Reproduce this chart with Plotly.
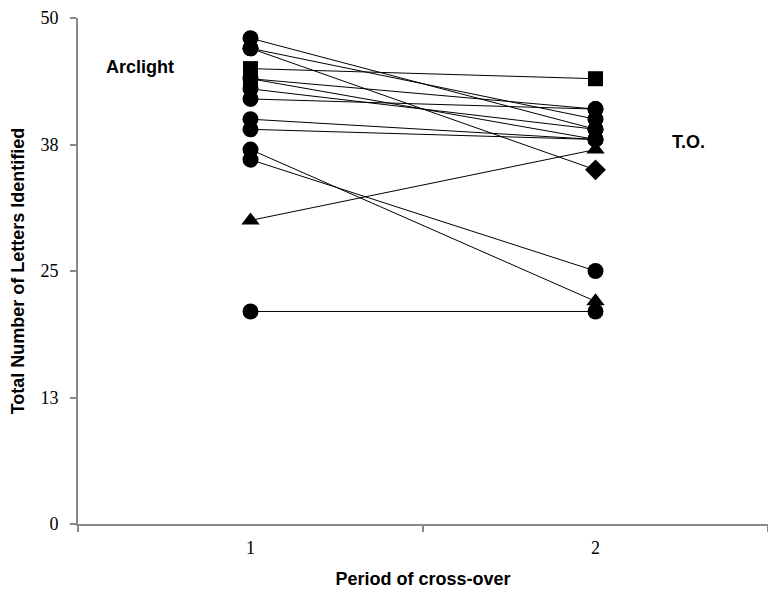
import plotly.graph_objects as go

periods = [1, 2]
period1_scores = [48, 47, 47, 45, 44, 44, 43, 42, 40, 39, 37, 36, 30, 21]
period2_scores = [39, 35, 40, 44, 41, 38, 39, 41, 38, 38, 22, 25, 37, 21]
period1_symbols = ["circle", "circle", "circle", "square", "square", "circle", "circle",
                   "circle", "circle", "circle", "circle", "circle", "triangle-up", "circle"]
period2_symbols = ["circle", "diamond", "circle", "square", "circle", "circle", "circle",
                   "circle", "circle", "circle", "triangle-up", "circle", "triangle-up", "circle"]
y_tick_vals = [0, 12.5, 25, 37.5, 50]
y_tick_text = ["0", "13", "25", "38", "50"]
x_tick_text = ["1", "2"]

sizes = {"circle": 16, "square": 15, "diamond": 16, "triangle-up": 16}

fig = go.Figure()
for a, b, s1, s2 in zip(period1_scores, period2_scores, period1_symbols, period2_symbols):
    fig.add_trace(go.Scatter(
        x=periods, y=[a, b], mode="lines+markers",
        line=dict(color="black", width=1),
        marker=dict(color="black", symbol=[s1, s2], size=[sizes[s1], sizes[s2]],
                    opacity=1, line=dict(width=0)),
        showlegend=False, cliponaxis=False,
    ))

axis_col = "#898989"
title_font = dict(family="Liberation Sans", size=18, color="black")
fig.update_layout(
    width=768, height=592,
    margin=dict(l=78, r=0, t=18, b=68),
    paper_bgcolor="white", plot_bgcolor="white",
    font=dict(family="Liberation Serif", size=18, color="black"),
    xaxis=dict(
        range=[0.5, 2.5], tickvals=periods, ticktext=x_tick_text,
        showline=True, linecolor=axis_col, linewidth=2,
        ticks="", showgrid=False, zeroline=False,
        ticklabelstandoff=6,
        minor=dict(tickvals=[0.5, 1.5, 2.5], ticks="outside", ticklen=6,
                   tickcolor=axis_col, tickwidth=2, showgrid=False),
        title=dict(text="<b>Period of cross-over</b>", font=title_font, standoff=16),
    ),
    yaxis=dict(
        range=[0, 50], tickvals=y_tick_vals, ticktext=y_tick_text,
        showline=True, linecolor=axis_col, linewidth=2,
        ticks="outside", ticklen=6, tickcolor=axis_col, tickwidth=2,
        showgrid=False, zeroline=False, ticklabelstandoff=8,
        title=dict(text="<b>Total Number of Letters Identified</b>", font=title_font,
                   standoff=11),
    ),
    annotations=[
        dict(text="<b>Arclight</b>", x=0.68, y=45.2, xref="x", yref="y",
             showarrow=False, font=title_font),
        dict(text="<b>T.O.</b>", x=2.27, y=37.7, xref="x", yref="y",
             showarrow=False, font=title_font),
    ],
)

fig.write_html("out.html")
